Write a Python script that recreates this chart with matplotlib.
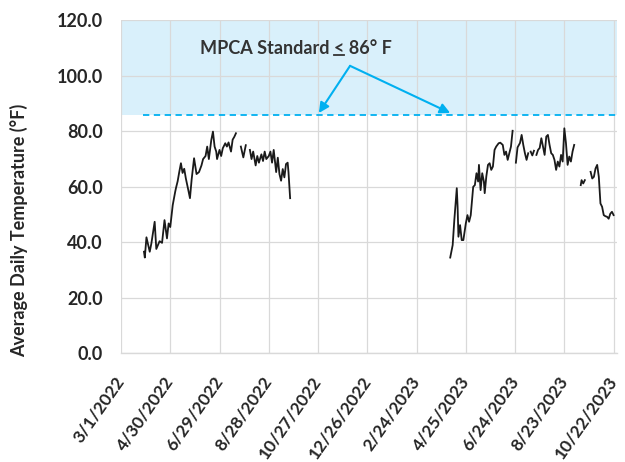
import numpy as np
import pandas as pd
import matplotlib
matplotlib.use("Agg")
import matplotlib.pyplot as plt
from matplotlib.lines import Line2D
from matplotlib.transforms import ScaledTranslation

plt.rcParams['font.family'] = ['Lato', 'DejaVu Sans']

# ---------------- data ----------------
base_date = "2022-03-01"
tick_labels = ["3/1/2022", "4/30/2022", "6/29/2022", "8/28/2022", "10/27/2022",
               "12/26/2022", "2/24/2023", "4/25/2023", "6/24/2023", "8/23/2023",
               "10/22/2023"]
tick_days = [0, 60, 120, 180, 240, 300, 360, 420, 480, 540, 600]

days_2022 = [28, 29, 31, 35, 37, 41, 43, 47, 50, 53, 56, 58, 60, 63, 66, 67, 69,
             71, 73, 75, 77, 79, 82, 84, 86, 89, 92, 95, 98, 100, 103, 105, 107,
             110, 112, 114, 116, 117, 120, 122, 124, 127, 129, 131, 134, 136, 138,
             140, 143, 146, 149, 152, 154, 157, 159, 161, 164, 166, 168, 171, 173,
             175, 177, 180, 182, 184, 186, 189, 191, 193, 195, 197, 199, 201, 203,
             204, 206]
temp_2022 = [36.6, 34.5, 41.8, 36.6, 39.6, 47.4, 37.6, 40.4, 39.8, 48.0, 41.4, 46.8,
             45.5, 53.4, 58.2, 59.6, 62.0, 65.4, 68.5, 65.0, 66.5, 63.0, 58.8, 55.9,
             62.5, 70.3, 64.6, 65.3, 67.7, 70.0, 71.1, 74.5, 70.0, 76.9, 79.9, 74.5,
             72.7, 70.0, 73.3, 71.1, 73.9, 75.7, 74.5, 76.0, 72.7, 77.0, 78.0, 79.3,
             np.nan, 74.5, 70.6, 75.0, np.nan, 73.3, 70.0, 72.7, 67.7, 71.1, 68.7,
             71.7, 69.3, 72.7, 70.0, 71.1, 72.7, 68.7, 73.3, 65.3, 70.5, 64.6, 62.2,
             66.4, 63.4, 68.2, 68.7, 65.3, 55.9]

days_2023 = [401, 404, 406, 409, 410, 411, 413, 415, 417, 420, 422, 424, 426, 429,
             431, 433, 435, 436, 438, 440, 442, 443, 445, 447, 449, 451, 453, 455,
             457, 460, 462, 465, 467, 469, 471, 473, 475, 477, 479, 481, 483, 486,
             488, 490, 492, 494, 496, 497, 499, 501, 503, 504, 506, 508, 510, 512,
             514, 516, 518, 520, 522, 524, 526, 528, 530, 532, 534, 536, 538, 540,
             542, 544, 546, 548, 550, 552, 556, 560, 561, 563, 565, 568, 572, 574,
             576, 578, 580, 582, 584, 586, 588, 590, 592, 594, 596, 598, 600]
temp_2023 = [34.5, 39.0, 48.0, 59.5, 52.8, 42.0, 46.2, 40.8, 40.8, 46.8, 49.8, 47.4,
             49.8, 60.0, 60.6, 64.9, 61.9, 67.9, 58.8, 64.9, 61.9, 57.7, 63.8, 67.9,
             68.5, 66.1, 67.3, 73.3, 74.5, 75.7, 75.9, 75.1, 71.5, 72.7, 69.7, 72.1,
             74.5, 80.2, np.nan, 68.7, 74.2, 75.8, 78.7, 75.1, 72.1, 69.7, 72.1,
             np.nan, 72.7, 71.3, 73.0, np.nan, 71.5, 73.3, 74.0, 77.5, 74.5, 71.5,
             78.1, 78.7, 75.1, 72.1, 71.5, 69.7, 66.1, 69.1, 67.3, 71.5, 69.1, 81.1,
             75.7, 67.9, 70.9, 69.1, 72.7, 75.1, np.nan, 60.6, 62.4, 61.2, 62.4,
             np.nan, 65.4, 63.0, 63.6, 66.6, 67.9, 63.6, 54.0, 52.8, 49.8, 49.4,
             49.2, 48.5, 50.3, 51.0, 49.8]

standard_value = 86
standard_days = [27, 604]
y_ticks = [0, 20, 40, 60, 80, 100, 120]
annotation_text = "MPCA Standard < 86° F"
y_label = "Average Daily Temperature (°F)"

# ---------------- plot ----------------
base = pd.Timestamp(base_date)
to_dates = lambda d: [base + pd.Timedelta(days=int(x)) for x in d]

fig = plt.figure(figsize=(6.25, 4.62), dpi=100)
ax = fig.add_axes([0.1936, 0.2353, 0.7934, 0.7207])

x0 = base + pd.Timedelta(days=0)
x1 = base + pd.Timedelta(days=604)
ax.set_xlim(x0, x1)
ax.set_ylim(0, 120)

ax.axhspan(standard_value, 120, color='#d9f0fb', zorder=0, lw=0)

ax.plot(to_dates(days_2022), temp_2022, color='#1a1a1a', lw=1.3, zorder=3)
ax.plot(to_dates(days_2023), temp_2023, color='#1a1a1a', lw=1.3, zorder=3)
ax.plot(to_dates(standard_days), [standard_value] * 2, color='#00b0f0',
        lw=1.3, ls=(0, (3.5, 2.5)), zorder=3)

ax.set_xticks(to_dates(tick_days))
ax.set_xticklabels(tick_labels, rotation=55, ha='right', va='center',
                   rotation_mode='anchor', fontsize=12.5, fontweight='bold',
                   color='#262626')
shift = ScaledTranslation(1 / 72, 0, fig.dpi_scale_trans)
for lab in ax.get_xticklabels():
    lab.set_transform(lab.get_transform() + shift)
ax.set_yticks(y_ticks)
ax.set_yticklabels([f"{v:.1f}" for v in y_ticks], fontsize=13,
                   fontweight='bold', color='#262626')
ax.tick_params(axis='both', length=0)
ax.tick_params(axis='y', pad=13)
ax.tick_params(axis='x', pad=18)
ax.grid(True, color='#d9d9d9', lw=0.9, zorder=1)
ax.set_axisbelow(True)
for s in ['top', 'right', 'left']:
    ax.spines[s].set_visible(False)
ax.spines['bottom'].set_color('#d9d9d9')
ax.spines['bottom'].set_linewidth(1.0)

fig.text(0.03, 0.502, y_label, rotation=90, ha='center', va='center',
         fontsize=13, fontweight='bold', color='#262626')

# annotation
ann_fs = 13
ann_x = base + pd.Timedelta(days=213)
t = ax.text(ann_x, 110, annotation_text, ha='center', va='center',
            fontsize=ann_fs, fontweight='bold', color='#333333', zorder=5)
origin = (base + pd.Timedelta(days=279), 103.6)
for tgt in [241, 401]:
    ax.annotate("", xy=(base + pd.Timedelta(days=tgt), 86.6), xytext=origin,
                arrowprops=dict(arrowstyle='-|>,head_length=0.6,head_width=0.3',
                                color='#00b0f0', lw=1.5, shrinkA=0, shrinkB=0),
                zorder=5)

# underline the "<"
fig.canvas.draw()
r = fig.canvas.get_renderer()
bb = t.get_window_extent(r)
def width_of(s):
    tmp = ax.text(0, 0, s, fontsize=ann_fs, fontweight='bold', transform=None)
    w = tmp.get_window_extent(r).width
    tmp.remove()
    return w
idx = annotation_text.index("<")
w_pre = width_of(annotation_text[:idx].rstrip()) + width_of("M M") - width_of("MM")
w_lt = width_of("<")
ux0 = bb.x0 + w_pre
ux1 = ux0 + w_lt
uy = bb.y0 + 1.5
fw, fh = fig.get_size_inches() * fig.dpi
fig.add_artist(Line2D([ux0 / fw, ux1 / fw], [uy / fh, uy / fh], color='#333333',
                      lw=1.3))

fig.savefig("out.png", dpi=100)
